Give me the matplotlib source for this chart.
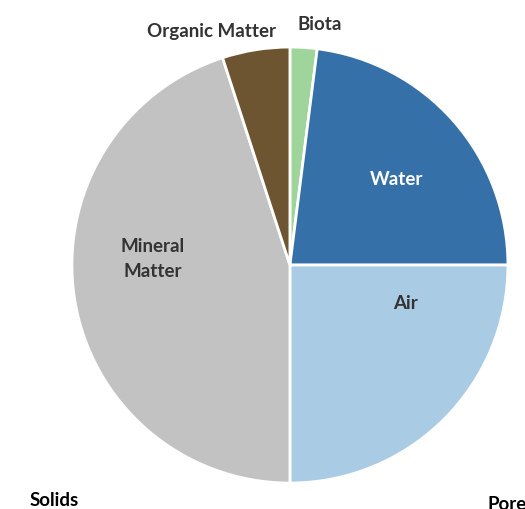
import matplotlib.pyplot as plt

labels = ['Biota', 'Water', 'Air', 'Mineral\nMatter', 'Organic Matter']
shares = [2, 23, 25, 45, 5]
colors = ['#9fd49a', '#3570a8', '#a9cbe4', '#c2c2c2', '#6c5530']

# label spots, in pie radius units (center 0,0)
label_pos = [(0.138, 1.106), (0.491, 0.399), (0.528, -0.170), (-0.628, 0.032), (-0.358, 1.078)]
label_col = ['#333333', 'white', '#333333', '#333333', '#333333']

fig = plt.figure(figsize=(5.25, 5.10), dpi=100)
ax = fig.add_axes([0.137, 0.045, 436 / 525, 442 / 510])

ax.pie(shares, colors=colors, startangle=90, counterclock=False,
       wedgeprops=dict(edgecolor='white', linewidth=2))
ax.set_xlim(-1, 1)
ax.set_ylim(-1, 1)
ax.axis('off')

for lab, (x, y), c in zip(labels, label_pos, label_col):
    ax.text(x, y, lab, ha='center', va='center', color=c, fontsize=13.5,
            fontweight='bold', family='Lato', linespacing=1.55, clip_on=False)

fig.text(0.057, 0.018, 'Solids', ha='left', va='center', fontsize=13.5,
         fontweight='bold', family='Lato', color='black')
fig.text(0.928, 0.010, 'Pore', ha='left', va='center', fontsize=13.5,
         fontweight='bold', family='Lato', color='black')

fig.savefig('out.png', dpi=100)
